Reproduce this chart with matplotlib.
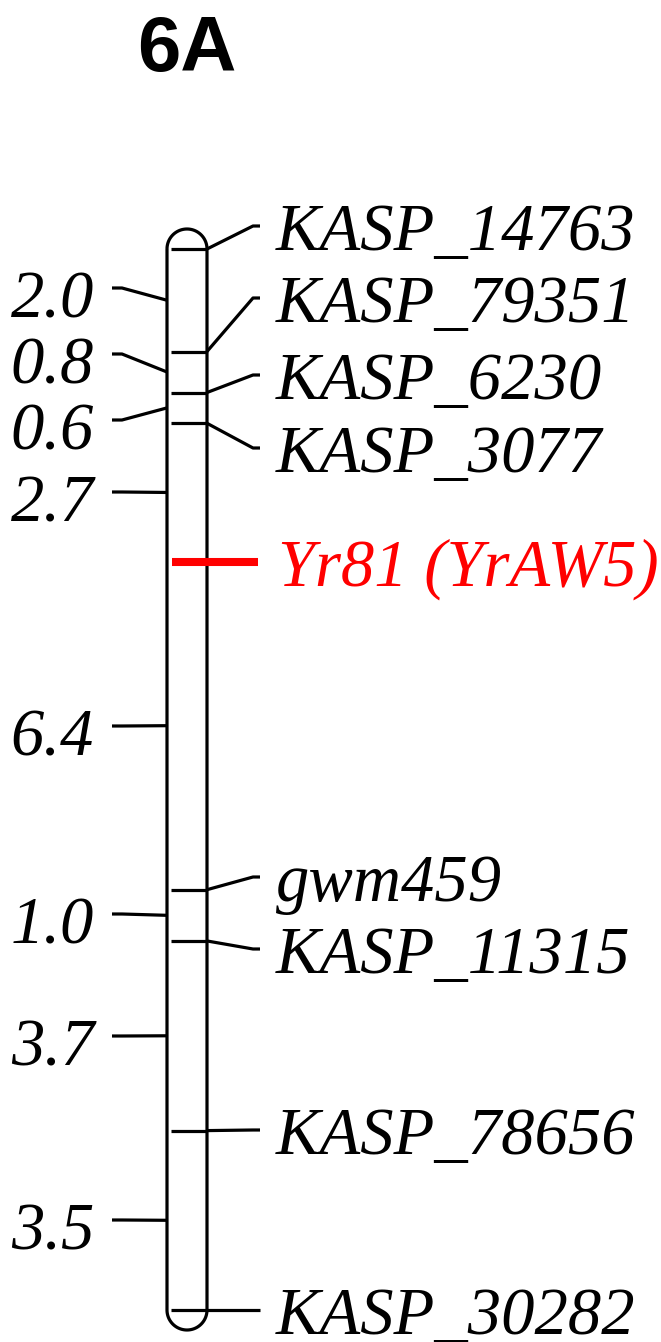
import numpy as np
import matplotlib.pyplot as plt

# linkage map data
chrom_name = "6A"
markers = ["KASP_14763", "KASP_79351", "KASP_6230", "KASP_3077", "Yr81 (YrAW5)",
           "gwm459", "KASP_11315", "KASP_78656", "KASP_30282"]
intervals = [2.0, 0.8, 0.6, 2.7, 6.4, 1.0, 3.7, 3.5]  # cM between neighbours
gene = "Yr81 (YrAW5)"

pos = np.concatenate([[0.0], np.cumsum(intervals)])
mid = (pos[:-1] + pos[1:]) / 2

# layout in pixels
W, H = 661, 1342
top_px, bot_px = 249, 1310
scale = (bot_px - top_px) / pos[-1]
x_l, x_r = 167, 207
xc = (x_l + x_r) / 2
r = 20
right_lab_px = [226, 298, 375, 448, 562, 877, 949, 1130, 1310]
left_lab_px = [288, 354, 420, 492, 726, 914, 1036, 1220]


def cm(p):
    # pixel row -> map position
    return (p - top_px) / scale


fig = plt.figure(figsize=(W / 100, H / 100), dpi=100)
ax = fig.add_axes([0, 0, 1, 1])
ax.set_xlim(0, W)
ax.set_ylim(cm(H), cm(0))
ax.axis('off')

lw = 2.3
serif = dict(family='Liberation Serif', style='italic', fontsize=48)

# chromosome outline with round caps
t = np.linspace(0, np.pi, 60)
xs = np.concatenate([xc - r * np.cos(t), [x_r, x_r], xc + r * np.cos(t), [x_l]])
ys = np.concatenate([cm(top_px - r * np.sin(t)), [pos[0], pos[-1]],
                     cm(bot_px + r * np.sin(t)), [pos[0]]])
ax.plot(xs, ys, color='black', lw=lw, solid_capstyle='butt')

# markers and right labels
for name, p, lab in zip(markers, pos, right_lab_px):
    if name == gene:
        ax.plot([172, 258], [p, p], color='red', lw=5.8, solid_capstyle='butt')
        ax.text(278, cm(lab + 24), name, color='red', ha='left', va='baseline', **serif)
        continue
    ax.plot([171, x_r], [p, p], color='black', lw=lw, solid_capstyle='butt')
    ax.plot([x_r, 253, 260], [p, cm(lab), cm(lab)], color='black', lw=lw,
            solid_capstyle='butt')
    ax.text(276, cm(lab + 24), name, color='black', ha='left', va='baseline', **serif)

# interval distances on the left
for d, m, lab in zip(intervals, mid, left_lab_px):
    ax.plot([112, 122, x_l], [cm(lab), cm(lab), m], color='black', lw=lw,
            solid_capstyle='butt')
    ax.text(94, cm(lab + 29), f"{d:.1f}", color='black', ha='right', va='baseline', **serif)

ax.text(xc, cm(71), chrom_name, family='Liberation Sans', weight='bold', fontsize=56,
        ha='center', va='baseline')

fig.savefig('out.png', dpi=100)
